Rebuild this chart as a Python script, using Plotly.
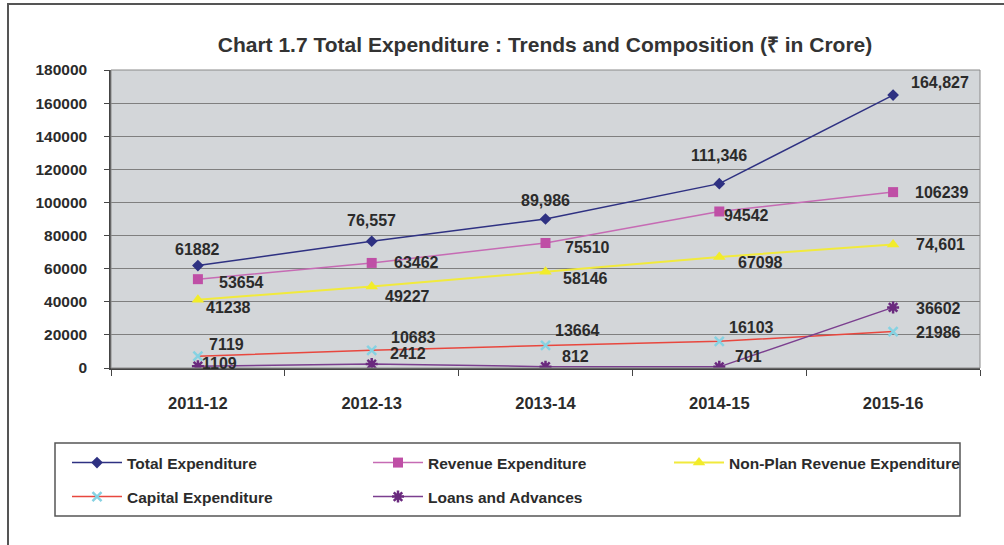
import plotly.graph_objects as go

# Financial years on the category axis
years = ["2011-12", "2012-13", "2013-14", "2014-15", "2015-16"]

# Expenditure series (Rs in crore)
total_exp = [61882, 76557, 89986, 111346, 164827]
revenue_exp = [53654, 63462, 75510, 94542, 106239]
nonplan_rev_exp = [41238, 49227, 58146, 67098, 74601]
capital_exp = [7119, 10683, 13664, 16103, 21986]
loans_adv = [1109, 2412, 812, 701, 36602]

y_ticks = [0, 20000, 40000, 60000, 80000, 100000, 120000, 140000, 160000, 180000]

# Whether a value label is printed with a thousands separator
total_comma = [False, True, True, True, True]
nonplan_comma = [False, False, False, False, True]
plain = [False] * 5

TEXT = "#2b2b2b"
FONT = "Liberation Sans, Arial, sans-serif"

series = [
    dict(name="Total Expenditure", y=total_exp, comma=total_comma,
         line="#2e3182", lw=1.5,
         marker=dict(symbol="diamond", size=9, color="#2e3182")),
    dict(name="Revenue Expenditure", y=revenue_exp, comma=plain,
         line="#c66bb4", lw=1.5,
         marker=dict(symbol="square", size=10, color="#bf4fa6")),
    dict(name="Non-Plan Revenue Expenditure", y=nonplan_rev_exp, comma=nonplan_comma,
         line="#f1ea3c", lw=2,
         marker=dict(symbol="triangle-up", size=11, color="#f2ec2a")),
    dict(name="Capital Expenditure", y=capital_exp, comma=plain,
         line="#e8473e", lw=1.5,
         marker=dict(symbol="x-thin-open", size=9, color="#86d2e2",
                     line=dict(width=2.5, color="#86d2e2"))),
    dict(name="Loans and Advances", y=loans_adv, comma=plain,
         line="#7b3f8f", lw=1.5,
         marker=dict(symbol="asterisk-open", size=10, color="#6a2a7e",
                     line=dict(width=2.5, color="#6a2a7e"))),
]

# Label placement per series: (xanchor, [(dx, dy) in px for each point])
label_place = [
    ("center", [(0, 16), (0, 21), (0, 19), (0, 28), (47, 13)]),
    ("left", [(19, -3), (20, 0), (17, -5), (3, -4), (20, 0)]),
    ("left", [(6, -8), (11, -10), (15, -7), (17, -6), (21, 0)]),
    ("left", [(9, 12), (17, 13), (7, 15), (8, 14), (21, -1)]),
    ("left", [(2, 3), (16, 11), (14, 10), (14, 10), (21, -1)]),
]

fig = go.Figure()
for i, s in enumerate(series):
    fig.add_trace(go.Scatter(
        x=years, y=s["y"], name=s["name"], mode="lines+markers",
        line=dict(color=s["line"], width=s["lw"]),
        marker=s["marker"],
        legend="legend" if i < 3 else "legend2",
    ))

annotations = []
for s, (anchor, offs) in zip(series, label_place):
    for xv, yv, cm, (dx, dy) in zip(years, s["y"], s["comma"], offs):
        annotations.append(dict(
            x=xv, y=yv, xref="x", yref="y", showarrow=False,
            text=f"{yv:,}" if cm else f"{yv}",
            xanchor=anchor, yanchor="middle", xshift=dx, yshift=dy,
            font=dict(family=FONT, size=16, color=TEXT, weight="bold"),
        ))

L, R, T, B = 111, 24, 70, 177
W, H = 1004, 545
pw, ph = W - L - R, H - T - B


def px_x(p):
    return (p - L) / pw


def px_y(p):
    return (H - B - p) / ph


shapes = [
    # plot area frame
    dict(type="rect", xref="paper", yref="paper", x0=0, x1=1, y0=0, y1=1,
         line=dict(color="#8a8a8a", width=1), layer="above"),
    # legend box
    dict(type="rect", xref="paper", yref="paper",
         x0=px_x(55), x1=px_x(960), y0=px_y(516), y1=px_y(443),
         line=dict(color="#555555", width=1.5)),
    # outer chart frame
    dict(type="rect", xref="paper", yref="paper",
         x0=px_x(8), x1=px_x(1020), y0=px_y(560), y1=px_y(4),
         line=dict(color="#555555", width=2)),
]

legend_common = dict(
    orientation="h", xanchor="left", yanchor="middle",
    bgcolor="rgba(0,0,0,0)", borderwidth=0,
    entrywidth=236, entrywidthmode="pixels", itemwidth=50,
    font=dict(family=FONT, size=15.5, color=TEXT, weight="bold"),
)

fig.update_layout(
    width=W, height=H,
    margin=dict(l=L, r=R, t=T, b=B),
    paper_bgcolor="white",
    plot_bgcolor="#d3d6d9",
    title=dict(
        text="Chart 1.7 Total Expenditure : Trends and Composition (₹ in Crore)",
        x=(210 + 880) / 2 / W, xanchor="center",
        y=1 - 45 / H, yanchor="middle",
        font=dict(family=FONT, size=21, color="#333333", weight="bold"),
    ),
    xaxis=dict(
        type="category", range=[-0.5, 4.5],
        tickson="boundaries", ticks="outside", ticklen=6, tickcolor="#444444",
        showline=True, linecolor="#444444", linewidth=1.5,
        showgrid=False, ticklabelstandoff=19,
        tickfont=dict(family=FONT, size=16.5, color=TEXT, weight="bold"),
    ),
    yaxis=dict(
        range=[0, 180000], tickvals=y_ticks, ticktext=[str(v) for v in y_ticks],
        ticks="outside", ticklen=5, tickcolor="#444444",
        showline=True, linecolor="#444444", linewidth=1.5,
        showgrid=True, gridcolor="#7f7f7f", gridwidth=1,
        zeroline=False, ticklabelstandoff=14,
        tickfont=dict(family=FONT, size=15.5, color=TEXT, weight="bold"),
    ),
    legend=dict(x=px_x(67), y=px_y(463), **legend_common),
    legend2=dict(x=px_x(67), y=px_y(497), **legend_common),
    annotations=annotations,
    shapes=shapes,
)

fig.write_html("out.html")
